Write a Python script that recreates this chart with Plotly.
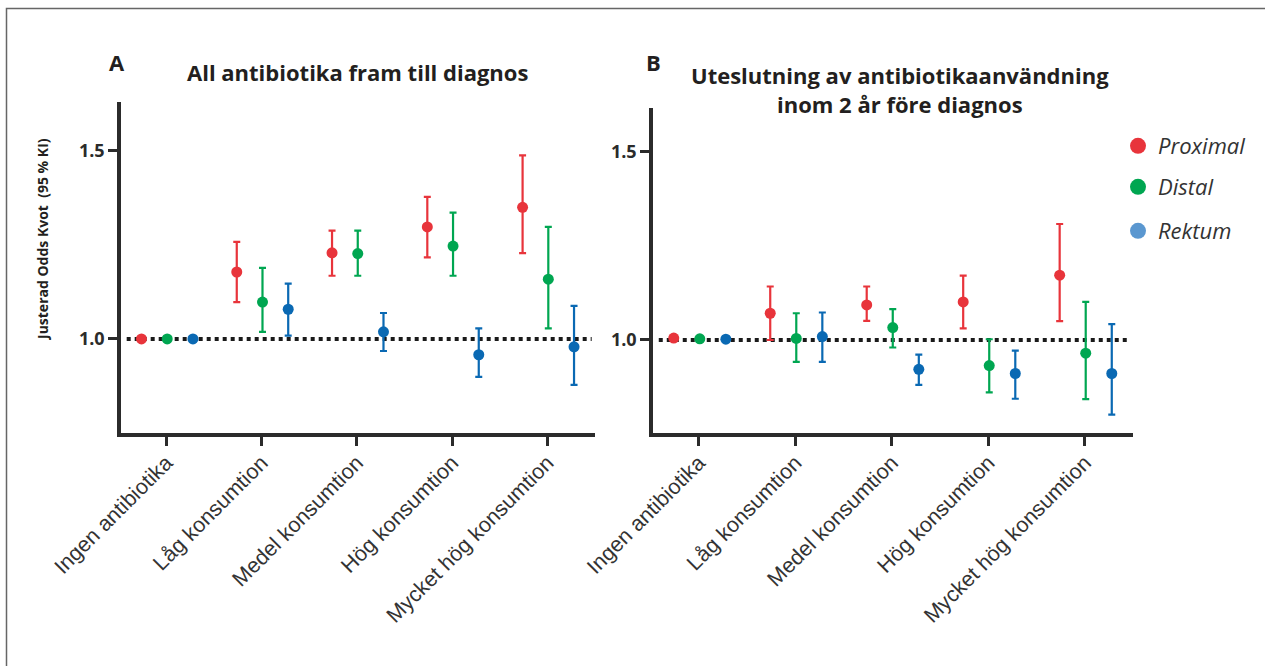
import plotly.graph_objects as go

categories = ["Ingen antibiotika", "Låg konsumtion", "Medel konsumtion",
              "Hög konsumtion", "Mycket hög konsumtion"]
series = ["Proximal", "Distal", "Rektum"]

# Panel A: All antibiotika fram till diagnos
a_proximal = [1.00, 1.178, 1.229, 1.298, 1.350]
a_proximal_lo = [1.00, 1.098, 1.168, 1.217, 1.228]
a_proximal_hi = [1.00, 1.258, 1.288, 1.378, 1.488]
a_distal = [1.00, 1.098, 1.227, 1.247, 1.159]
a_distal_lo = [1.00, 1.019, 1.168, 1.168, 1.028]
a_distal_hi = [1.00, 1.189, 1.288, 1.336, 1.298]
a_rektum = [1.00, 1.079, 1.019, 0.958, 0.979]
a_rektum_lo = [1.00, 1.009, 0.968, 0.899, 0.878]
a_rektum_hi = [1.00, 1.147, 1.069, 1.028, 1.088]

# Panel B: Uteslutning av antibiotikaanvändning inom 2 år före diagnos
b_proximal = [1.005, 1.071, 1.093, 1.101, 1.172]
b_proximal_lo = [1.005, 1.000, 1.051, 1.031, 1.050]
b_proximal_hi = [1.005, 1.142, 1.142, 1.171, 1.308]
b_distal = [1.003, 1.004, 1.033, 0.932, 0.965]
b_distal_lo = [1.003, 0.942, 0.980, 0.861, 0.843]
b_distal_hi = [1.003, 1.071, 1.082, 1.002, 1.101]
b_rektum = [1.002, 1.009, 0.922, 0.911, 0.911]
b_rektum_lo = [1.002, 0.942, 0.881, 0.844, 0.802]
b_rektum_hi = [1.002, 1.073, 0.961, 0.972, 1.042]

y_ticks = [1.0, 1.5]
y_ticktext = ["1.0", "1.5"]

colors = {"Proximal": "#e8343b", "Distal": "#00a651", "Rektum": "#0a69b3"}
legend_colors = {"Proximal": "#e8343b", "Distal": "#00a651", "Rektum": "#5a97d0"}
offsets = {"Proximal": -0.26, "Distal": 0.01, "Rektum": 0.28}

W, H = 1265, 666
AX = "#2b2b2b"


def px(x):
    return x / W


def py(y):
    return 1 - y / H


panel_a = {"Proximal": (a_proximal, a_proximal_lo, a_proximal_hi),
           "Distal": (a_distal, a_distal_lo, a_distal_hi),
           "Rektum": (a_rektum, a_rektum_lo, a_rektum_hi)}
panel_b = {"Proximal": (b_proximal, b_proximal_lo, b_proximal_hi),
           "Distal": (b_distal, b_distal_lo, b_distal_hi),
           "Rektum": (b_rektum, b_rektum_lo, b_rektum_hi)}

fig = go.Figure()

for panel, (xa, ya) in ((panel_a, ("x", "y")), (panel_b, ("x2", "y2"))):
    for s in series:
        vals, lo, hi = panel[s]
        xs = [i + offsets[s] for i in range(len(categories))]
        fig.add_trace(go.Scatter(
            x=xs, y=vals, mode="markers", xaxis=xa, yaxis=ya,
            marker=dict(size=11, color=colors[s]),
            error_y=dict(type="data", symmetric=False,
                         array=[h - v for h, v in zip(hi, vals)],
                         arrayminus=[v - l for v, l in zip(vals, lo)],
                         color=colors[s], thickness=2.2, width=3.5),
            showlegend=False, hoverinfo="skip"))

legend_names = ["legend", "legend2", "legend3"]
legend_y = [146, 187, 231]
for s, lg in zip(series, legend_names):
    fig.add_trace(go.Scatter(
        x=[None], y=[None], mode="markers", name=s, legend=lg,
        marker=dict(size=16, color=legend_colors[s]), showlegend=True))

xaxis_common = dict(
    range=[-0.475, 4.5], tickmode="array", tickvals=list(range(len(categories))),
    ticktext=categories, tickangle=-45, ticks="outside", ticklen=9, tickwidth=3,
    tickcolor=AX, showline=True, linewidth=3.5, linecolor=AX, showgrid=False,
    zeroline=False, automargin=False, ticklabelstandoff=-4,
    tickfont=dict(family="Liberation Sans, Arial", size=21.5, color="#333333"))
yaxis_common = dict(
    tickmode="array", tickvals=y_ticks, ticktext=y_ticktext,
    ticks="outside", ticklen=9, tickwidth=3, tickcolor=AX, showline=True,
    linewidth=3.5, linecolor=AX, showgrid=False, zeroline=False, automargin=False,
    tickfont=dict(family="Open Sans", size=18, color="#2b2b2b", weight="bold"))

legend_common = dict(font=dict(family="Open Sans", size=22, color="#333333",
                               style="italic"),
                     bgcolor="rgba(0,0,0,0)", borderwidth=0,
                     xanchor="left", yanchor="middle", itemclick=False)

layout = dict(
    width=W, height=H, margin=dict(l=0, r=0, t=0, b=0),
    paper_bgcolor="white", plot_bgcolor="white", template="none",
    xaxis=dict(domain=[px(121), px(595)], anchor="y", **xaxis_common),
    yaxis=dict(domain=[py(433), py(102)], anchor="x", range=[0.75, 1.63],
               **yaxis_common),
    xaxis2=dict(domain=[px(653), px(1133)], anchor="y2", **xaxis_common),
    yaxis2=dict(domain=[py(433), py(108)], anchor="x2", range=[0.753, 1.616],
                **yaxis_common),
)
for lg, yy in zip(legend_names, legend_y):
    layout[lg] = dict(x=px(1118), y=py(yy), **legend_common)
fig.update_layout(**layout)

# reference line at OR = 1.0
for xr, yr in (("x", "y"), ("x2", "y2")):
    fig.add_shape(type="line", xref=f"{xr} domain", yref=yr, x0=0.012, x1=0.993,
                  y0=1.0, y1=1.0, line=dict(color="#1a1a1a", width=4, dash="dot"),
                  layer="below")

# outer frame
fig.add_shape(type="rect", xref="paper", yref="paper", x0=px(6.5), x1=px(1290),
              y0=py(720), y1=py(8.5), line=dict(color="#666666", width=1.5))

title_font = dict(family="Open Sans", size=22, color="#231f20", weight="bold")
fig.add_annotation(text="A", x=px(117), y=py(62), xref="paper", yref="paper",
                   showarrow=False, font=title_font, xanchor="center", yanchor="middle")
fig.add_annotation(text="All antibiotika fram till diagnos", x=px(358), y=py(72),
                   xref="paper", yref="paper", showarrow=False, font=title_font,
                   xanchor="center", yanchor="middle")
fig.add_annotation(text="B", x=px(653), y=py(62), xref="paper", yref="paper",
                   showarrow=False, font=title_font, xanchor="center", yanchor="middle")
fig.add_annotation(text="Uteslutning av antibiotikaanvändning<br>inom 2 år före diagnos",
                   x=px(900), y=py(89), xref="paper", yref="paper", showarrow=False,
                   font=title_font, xanchor="center", yanchor="middle", align="center")
fig.add_annotation(text="Justerad Odds Kvot  (95 % KI)", x=px(42), y=py(240),
                   xref="paper", yref="paper", showarrow=False, textangle=-90,
                   font=dict(family="Open Sans", size=14, color="#231f20", weight="bold"),
                   xanchor="center", yanchor="middle")

fig.write_html("out.html", config={"displayModeBar": False},
               post_script="document.body.style.margin='0';")
